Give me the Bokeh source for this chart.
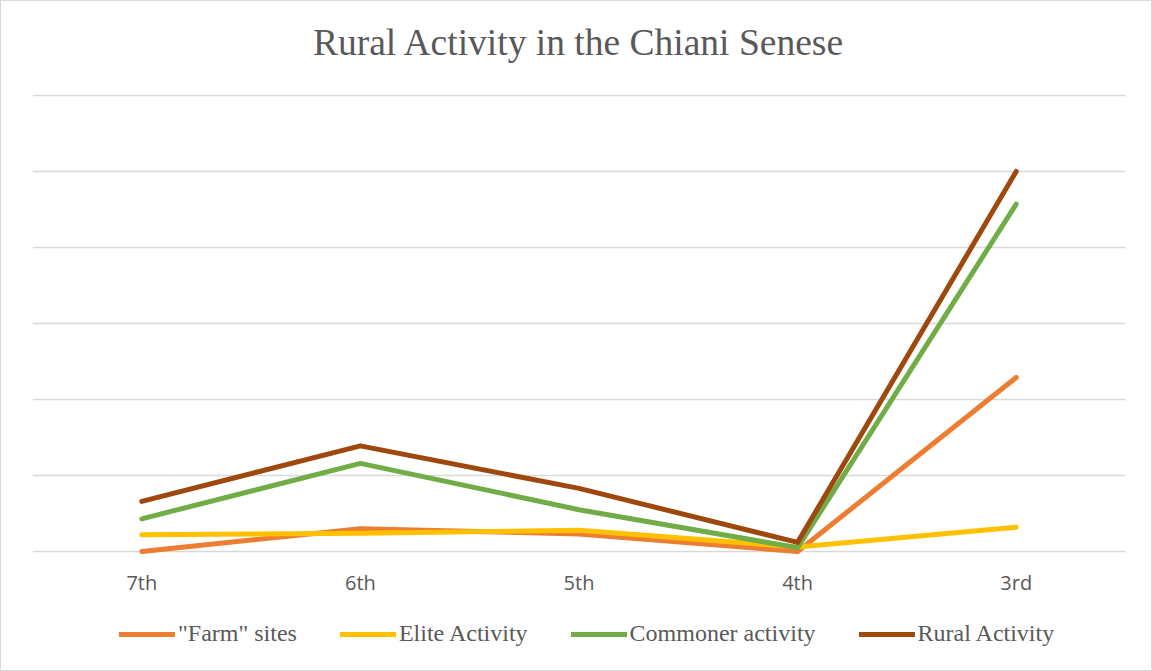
from bokeh.plotting import figure
from bokeh.models import Range1d, FactorRange, Legend, LegendItem, Title
from bokeh.embed import file_html
from bokeh.resources import INLINE

centuries = ["7th", "6th", "5th", "4th", "3rd"]
farm_sites = [0.0, 0.30, 0.23, 0.0, 2.29]
elite_activity = [0.22, 0.24, 0.28, 0.06, 0.32]
commoner_activity = [0.43, 1.16, 0.55, 0.05, 4.57]
rural_activity = [0.66, 1.39, 0.83, 0.12, 5.0]

series = [
    ('"Farm" sites', farm_sites, "#ED7D31"),
    ("Elite Activity", elite_activity, "#FFC000"),
    ("Commoner activity", commoner_activity, "#70AD47"),
    ("Rural Activity", rural_activity, "#9E480E"),
]

p = figure(
    width=1152, height=671,
    x_range=FactorRange(*centuries, range_padding=0),
    y_range=Range1d(-1.592, 6.184),
    x_axis_location="above",
    output_backend="svg", toolbar_location=None,
    min_border_left=31, min_border_right=28, min_border_top=80, min_border_bottom=0,
)
p.title = Title(text="Rural Activity in the Chiani Senese", align="center",
                text_font="Liberation Serif", text_font_size="37.5px",
                text_font_style="normal", text_color="#595959", standoff=37)
p.outline_line_color = None
p.background_fill_color = "white"
p.border_fill_color = "white"

p.yaxis.visible = False
p.ygrid.grid_line_color = "#D9D9D9"
p.ygrid.grid_line_width = 1.5
p.yaxis.ticker = [0, 1, 2, 3, 4, 5, 6]
p.ygrid.ticker = [0, 1, 2, 3, 4, 5, 6]
p.xgrid.grid_line_color = None

p.xaxis.fixed_location = -0.59
p.xaxis.axis_line_color = None
p.xaxis.major_tick_line_color = None
p.xaxis.minor_tick_line_color = None
p.xaxis.major_tick_out = 0
p.xaxis.major_tick_in = 0
p.xaxis.major_label_text_font = "Open Sans"
p.xaxis.major_label_text_font_size = "20px"
p.xaxis.major_label_text_color = "#595959"
p.xaxis.major_label_standoff = 0

items = []
for name, vals, col in series:
    r = p.line(centuries, vals, line_color=col, line_width=5, line_cap="round", line_join="round")
    items.append(LegendItem(label=name, renderers=[r]))

legend = Legend(items=items, orientation="horizontal", location=(87, 25),
                label_text_font="Liberation Serif", label_text_font_size="24px",
                label_text_color="#595959", glyph_width=56, glyph_height=24,
                label_standoff=3, spacing=43, border_line_color=None,
                background_fill_alpha=0, margin=0, padding=0)
p.add_layout(legend, "center")

p.styles = {"border": "1px solid #d9d9d9"}

open("out.html", "w").write(file_html(p, INLINE))
